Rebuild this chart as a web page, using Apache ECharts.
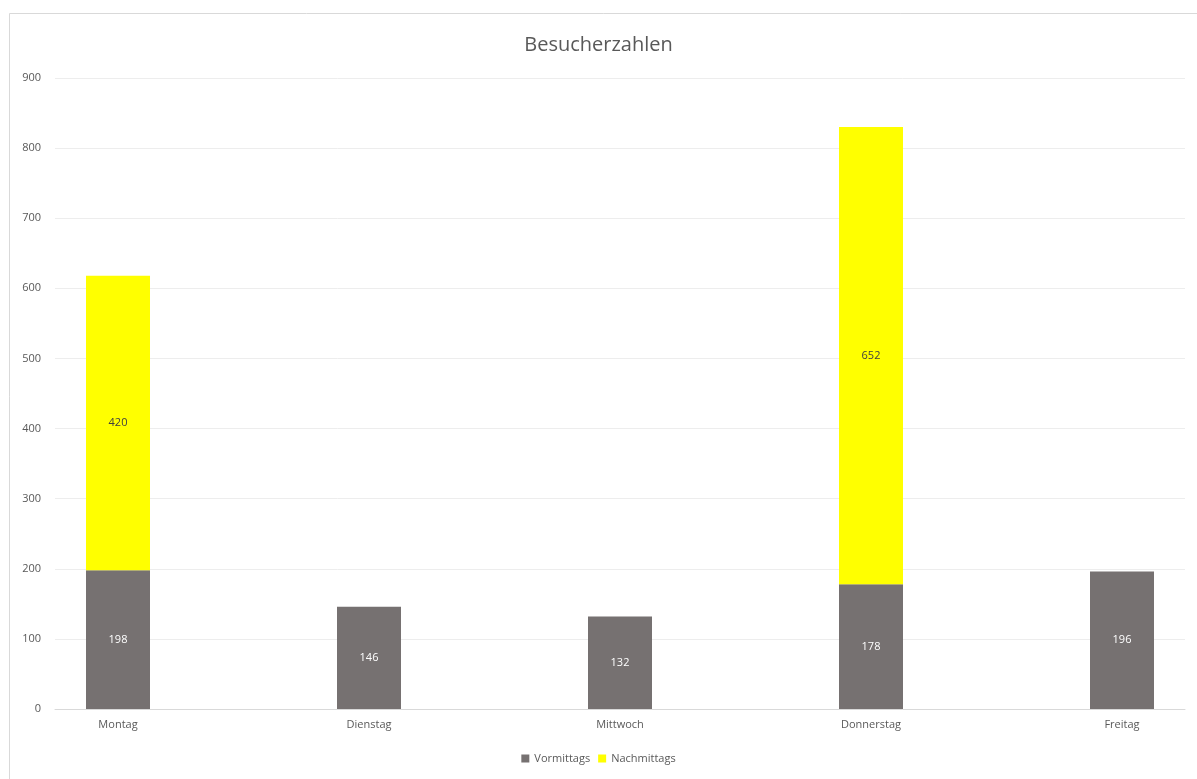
<!DOCTYPE html>
<html>
<head>
<meta charset="utf-8">
<script src="https://cdn.jsdelivr.net/npm/echarts@6/dist/echarts.min.js"></script>
<style>
html,body{margin:0;padding:0;background:#fff;}
#c{width:1197px;height:779px;}
</style>
</head>
<body>
<div id="c"></div>
<script>
const categories = ['Montag', 'Dienstag', 'Mittwoch', 'Donnerstag', 'Freitag'];
const vormittags = [198, 146, 132, 178, 196];
const nachmittags = [420, null, null, 652, null];
const yTicks = [0, 100, 200, 300, 400, 500, 600, 700, 800, 900];

const FONT = '"Open Sans", "Noto Sans", sans-serif';
const chart = echarts.init(document.getElementById('c'), null, {renderer: 'canvas'});

chart.setOption({
  animation: false,
  backgroundColor: '#ffffff',
  graphic: [{
    type: 'rect',
    shape: {x: 9.5, y: 13.5, width: 1200, height: 800},
    style: {fill: 'none', stroke: '#d9d9d9', lineWidth: 1},
    silent: true
  }],
  title: {
    text: 'Besucherzahlen',
    left: 'center',
    top: 30,
    textStyle: {fontFamily: FONT, fontSize: 20, fontWeight: 'normal', color: '#595959'}
  },
  legend: {
    bottom: 10,
    left: 'center',
    itemWidth: 8,
    itemHeight: 8,
    itemGap: 8,
    icon: 'rect',
    textStyle: {fontFamily: FONT, fontSize: 11, color: '#595959'},
    data: ['Vormittags', 'Nachmittags']
  },
  grid: [
    {left: 55, right: 12, top: 78, bottom: 70, containLabel: false, outerBoundsMode: 'none'},
    {left: -7.5, width: 1255, top: 78, bottom: 70, containLabel: false, outerBoundsMode: 'none'}
  ],
  xAxis: [
    {
      gridIndex: 0,
      type: 'value',
      min: 0, max: 1,
      splitLine: {show: false},
      axisTick: {show: false},
      axisLabel: {show: false},
      axisLine: {show: true, lineStyle: {color: '#d9d9d9'}}
    },
    {
      gridIndex: 1,
      type: 'category',
      data: categories,
      axisLine: {show: false},
      axisTick: {show: false},
      splitLine: {show: false},
      axisLabel: {fontFamily: FONT, fontSize: 11, color: '#595959', margin: 10}
    }
  ],
  yAxis: [
    {
      gridIndex: 0,
      type: 'value',
      min: yTicks[0],
      max: yTicks[yTicks.length - 1],
      interval: 100,
      axisLine: {show: false},
      axisTick: {show: false},
      splitLine: {lineStyle: {color: '#ededed'}},
      axisLabel: {fontFamily: FONT, fontSize: 11, color: '#595959', margin: 14}
    },
    {
      gridIndex: 1,
      type: 'value',
      min: yTicks[0],
      max: yTicks[yTicks.length - 1],
      interval: 100,
      show: false,
      splitLine: {show: false}
    }
  ],
  series: [
    {
      name: 'Vormittags',
      type: 'bar',
      xAxisIndex: 1,
      yAxisIndex: 1,
      stack: 'total',
      barWidth: 64,
      data: vormittags,
      itemStyle: {color: '#767171'},
      label: {show: true, position: 'inside', color: '#ffffff', fontFamily: FONT, fontSize: 11}
    },
    {
      name: 'Nachmittags',
      type: 'bar',
      xAxisIndex: 1,
      yAxisIndex: 1,
      stack: 'total',
      barWidth: 64,
      data: nachmittags,
      itemStyle: {color: '#ffff00'},
      label: {show: true, position: 'inside', color: '#404040', fontFamily: FONT, fontSize: 11}
    }
  ]
});
</script>
</body>
</html>
